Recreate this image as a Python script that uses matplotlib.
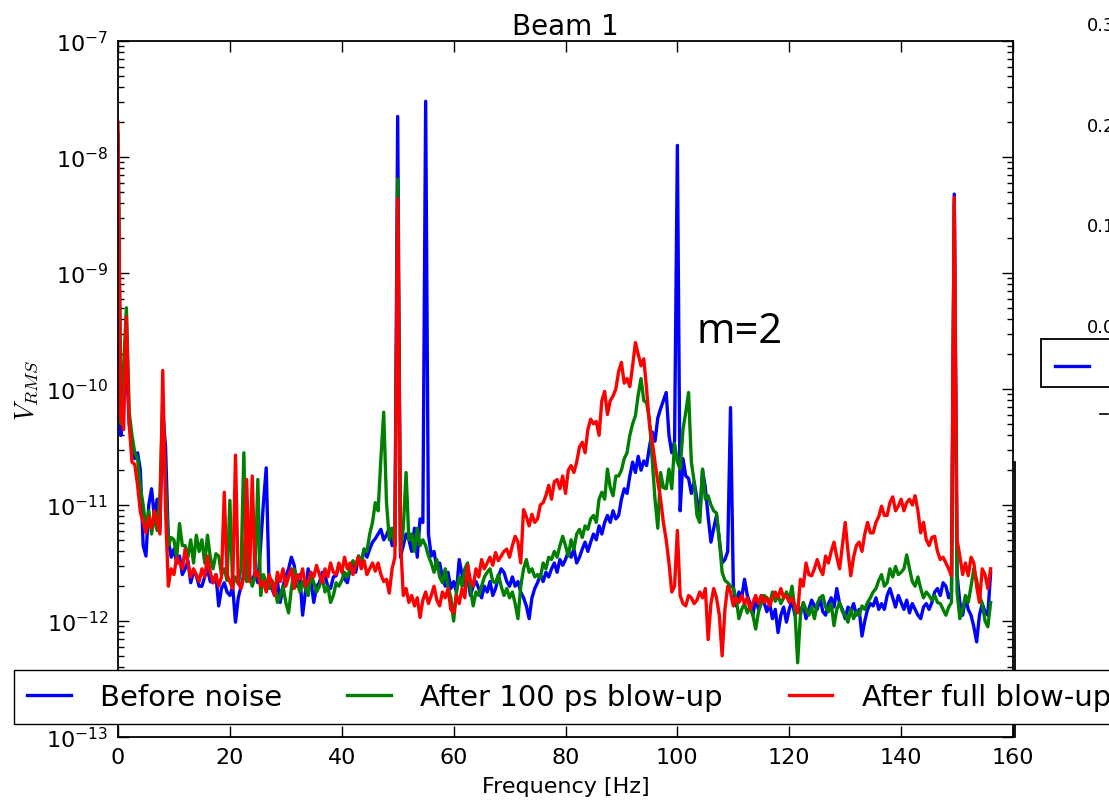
import numpy as np
import matplotlib
matplotlib.use("Agg")
import matplotlib.pyplot as plt
from matplotlib.lines import Line2D
from matplotlib.patches import Rectangle

plt.rcParams['mathtext.fontset'] = 'cm'

# frequency grid (Hz), 0.5 Hz steps from 0 to 156
freq = np.linspace(0, 156, 313)

# log10(V_RMS), 10 values per 5 Hz
before_noise = [
    -7.80, -10.40, -10.00, -9.75, -10.30, -10.45, -10.60, -10.55, -10.70, -11.35,
    -11.44, -11.00, -10.86, -11.10, -10.95, -11.20, -10.20, -10.50, -11.30, -11.45,
    -11.38, -11.50, -11.44, -11.60, -11.55, -11.48, -11.67, -11.58, -11.61, -11.70,
    -11.70, -11.62, -11.55, -11.66, -11.67, -11.60, -11.87, -11.72, -11.67, -11.75,
    -11.78, -11.70, -12.01, -11.80, -11.70, -11.60, -11.10, -11.62, -11.66, -11.58,
    -11.67, -11.35, -10.98, -10.68, -11.67, -11.72, -11.78, -11.66, -11.84, -11.70,
    -11.61, -11.55, -11.45, -11.52, -11.70, -11.60, -11.95, -11.75, -11.55, -11.66,
    -11.84, -11.70, -11.67, -11.58, -11.61, -11.70, -11.72, -11.62, -11.61, -11.52,
    -11.55, -11.64, -11.67, -11.55, -11.50, -11.58, -11.44, -11.50, -11.38, -11.45,
    -11.38, -11.32, -11.29, -11.25, -11.21, -11.30, -11.26, -11.20, -11.35, -11.30,
    -7.65, -11.45, -11.35, -11.25, -11.30, -11.40, -11.20, -11.45, -11.12, -11.15,
    -7.52, -11.25, -11.44, -11.40, -11.55, -11.50, -11.62, -11.70, -11.58, -11.72,
    -11.66, -11.75, -11.47, -11.60, -11.70, -11.62, -11.78, -11.70, -11.66, -11.72,
    -11.80, -11.70, -11.75, -11.66, -11.78, -11.72, -11.62, -11.55, -11.58, -11.66,
    -11.70, -11.62, -11.70, -11.66, -11.75, -11.80, -11.87, -11.98, -11.80, -11.72,
    -11.67, -11.60, -11.66, -11.58, -11.62, -11.55, -11.50, -11.58, -11.47, -11.52,
    -11.47, -11.40, -11.45, -11.38, -11.50, -11.45, -11.38, -11.32, -11.40, -11.32,
    -11.25, -11.30, -11.18, -11.25, -11.15, -11.09, -11.15, -11.05, -11.12, -11.09,
    -10.95, -10.86, -10.90, -10.75, -10.63, -10.72, -10.58, -10.70, -10.62, -10.66,
    -10.50, -10.37, -10.45, -10.25, -10.17, -10.10, -10.03, -10.40, -10.55, -10.45,
    -7.90, -11.05, -10.60, -10.75, -10.77, -10.90, -10.80, -10.95, -11.09, -10.70,
    -10.85, -11.10, -11.32, -11.20, -11.09, -11.30, -11.50, -11.47, -11.40, -10.16,
    -11.70, -11.87, -11.75, -11.80, -11.64, -11.78, -11.85, -11.95, -11.80, -11.90,
    -11.78, -11.84, -11.92, -11.85, -11.98, -11.90, -12.10, -11.95, -11.88, -12.01,
    -11.90, -11.82, -11.95, -11.87, -11.92, -11.85, -11.98, -11.90, -11.82, -11.87,
    -11.90, -11.80, -11.92, -11.95, -11.85, -11.80, -11.88, -11.72, -11.85, -11.90,
    -11.98, -11.88, -11.92, -11.85, -11.95, -11.90, -12.13, -12.00, -11.90, -11.85,
    -11.87, -11.80, -11.90, -11.85, -11.90, -11.78, -11.72, -11.80, -11.88, -11.78,
    -11.84, -11.90, -11.82, -11.93, -11.85, -11.90, -11.95, -11.98, -11.88, -11.85,
    -11.90, -11.84, -11.75, -11.72, -11.78, -11.67, -11.70, -11.80, -11.75, -8.32,
    -11.60, -11.84, -11.95, -11.80, -11.90, -11.95, -12.05, -12.18, -11.95, -11.85,
    -11.92, -11.95, -11.58,
]

after_100ps = [
    -7.90, -10.30, -9.80, -9.30, -10.20, -10.40, -10.55, -10.60, -10.85, -11.00,
    -11.20, -11.05, -11.25, -11.10, -11.22, -10.90, -10.09, -10.80, -11.35, -11.28,
    -11.30, -11.45, -11.16, -11.35, -11.35, -11.45, -11.30, -11.50, -11.26, -11.40,
    -11.30, -11.50, -11.26, -11.45, -11.55, -11.42, -11.44, -11.60, -11.55, -11.65,
    -10.96, -11.70, -11.62, -11.68, -11.55, -10.55, -11.66, -11.60, -11.70, -11.62,
    -10.78, -11.78, -11.60, -11.67, -11.72, -11.65, -11.70, -11.84, -11.78, -11.70,
    -11.84, -11.93, -11.72, -11.55, -11.65, -11.75, -11.66, -11.72, -11.78, -11.60,
    -11.67, -11.75, -11.70, -11.62, -11.75, -11.70, -11.84, -11.78, -11.67, -11.70,
    -11.65, -11.58, -11.62, -11.55, -11.48, -11.52, -11.44, -11.50, -11.38, -11.40,
    -11.25, -11.15, -10.98, -11.05, -10.60, -10.20, -10.98, -11.30, -11.20, -11.35,
    -8.19, -11.40, -11.20, -10.72, -11.30, -11.25, -11.40, -11.20, -11.35, -11.30,
    -11.35, -11.44, -11.50, -11.58, -11.47, -11.62, -11.67, -11.55, -11.70, -11.80,
    -12.00, -11.75, -11.62, -11.70, -11.55, -11.50, -11.72, -11.87, -11.75, -11.78,
    -11.70, -11.62, -11.58, -11.55, -11.66, -11.67, -11.60, -11.70, -11.78, -11.72,
    -11.80, -11.75, -11.85, -11.98, -11.70, -11.55, -11.47, -11.58, -11.55, -11.62,
    -11.60, -11.63, -11.50, -11.55, -11.45, -11.47, -11.40, -11.45, -11.35, -11.27,
    -11.35, -11.44, -11.30, -11.38, -11.25, -11.21, -11.28, -11.18, -11.21, -11.12,
    -11.09, -11.15, -10.95, -10.89, -10.95, -10.69, -10.85, -10.92, -10.75, -10.75,
    -10.70, -10.60, -10.55, -10.40, -10.30, -10.23, -10.05, -9.91, -10.10, -10.12,
    -10.26, -10.60, -10.95, -11.20, -10.72, -10.85, -10.86, -10.69, -10.86, -10.47,
    -10.63, -10.69, -10.35, -10.20, -10.03, -10.63, -10.80, -11.09, -11.15, -10.69,
    -10.95, -10.92, -11.00, -11.05, -11.07, -11.30, -11.58, -11.65, -11.67, -11.70,
    -11.72, -11.80, -11.98, -11.90, -11.85, -11.93, -11.88, -11.95, -12.07, -11.92,
    -11.85, -11.78, -11.80, -11.85, -11.75, -11.83, -11.78, -11.85, -11.80, -11.75,
    -11.82, -11.70, -11.90, -12.36, -11.95, -11.84, -11.90, -11.95, -11.88, -11.98,
    -11.85, -11.80, -11.78, -11.88, -11.92, -11.85, -12.04, -11.90, -11.84, -11.92,
    -11.95, -12.01, -11.90, -11.98, -11.92, -11.95, -11.87, -11.90, -11.84, -11.80,
    -11.75, -11.72, -11.65, -11.60, -11.70, -11.67, -11.55, -11.62, -11.53, -11.60,
    -11.58, -11.55, -11.43, -11.55, -11.66, -11.70, -11.62, -11.72, -11.80, -11.75,
    -11.78, -11.82, -11.78, -11.84, -11.85, -11.90, -11.95, -11.88, -11.84, -8.40,
    -11.75, -11.98, -11.90, -11.78, -11.84, -11.70, -11.55, -11.65, -11.78, -11.85,
    -12.00, -12.05, -11.84,
]

after_full = [
    -7.70, -10.25, -10.35, -9.38, -10.30, -10.63, -10.65, -10.83, -11.06, -11.15,
    -11.24, -11.10, -11.20, -11.05, -11.15, -11.25, -9.84, -11.05, -11.70, -11.55,
    -11.60, -11.45, -11.50, -11.55, -11.38, -11.50, -11.62, -11.55, -11.60, -11.66,
    -11.55, -11.62, -11.44, -11.58, -11.67, -11.60, -11.70, -11.62, -10.89, -11.60,
    -11.66, -11.72, -10.57, -11.67, -11.72, -11.62, -10.78, -11.66, -10.75, -11.61,
    -11.58, -11.70, -11.66, -11.75, -11.60, -11.67, -11.78, -11.58, -11.66, -11.55,
    -11.70, -11.62, -11.55, -11.72, -11.60, -11.64, -11.55, -11.70, -11.66, -11.58,
    -11.62, -11.52, -11.60, -11.67, -11.55, -11.62, -11.50, -11.58, -11.60, -11.50,
    -11.58, -11.45, -11.55, -11.50, -11.60, -11.52, -11.45, -11.55, -11.48, -11.60,
    -11.55, -11.50, -11.57, -11.50, -11.60, -11.66, -11.64, -11.76, -11.55, -11.45,
    -8.36, -11.30, -11.78, -11.72, -11.84, -11.78, -11.87, -11.80, -11.97, -11.82,
    -11.75, -11.85, -11.78, -11.70, -11.82, -11.87, -11.75, -11.80, -11.72, -11.90,
    -11.93, -11.78, -11.85, -11.72, -11.80, -11.52, -11.65, -11.70, -11.55, -11.62,
    -11.47, -11.55, -11.50, -11.45, -11.52, -11.41, -11.48, -11.44, -11.40, -11.38,
    -11.45, -11.35, -11.27, -11.32, -11.50, -11.04, -11.10, -11.18, -11.08, -11.15,
    -11.12, -11.00, -10.98, -10.92, -10.83, -10.95, -10.80, -10.78, -10.86, -10.75,
    -10.90, -10.70, -10.66, -10.72, -10.63, -10.50, -10.46, -10.55, -10.35, -10.26,
    -10.30, -10.28, -10.40, -10.10, -10.02, -10.22, -10.10, -10.06, -10.00, -9.85,
    -9.77, -9.95, -9.91, -9.98, -9.80, -9.60, -9.70, -9.80, -9.74, -10.00,
    -10.30, -10.45, -10.63, -10.80, -10.95, -11.15, -11.30, -11.50, -11.75, -11.70,
    -11.22, -11.78, -11.85, -11.87, -11.78, -11.80, -11.85, -11.82, -11.75, -11.80,
    -11.72, -12.16, -11.85, -11.72, -11.80, -11.95, -12.30, -11.90, -11.70, -11.75,
    -11.87, -11.80, -11.84, -11.78, -11.85, -11.80, -11.90, -11.84, -11.78, -11.85,
    -11.78, -11.84, -11.80, -11.87, -11.80, -11.75, -11.80, -11.72, -11.80, -11.78,
    -11.84, -11.80, -11.87, -11.93, -11.64, -11.70, -11.50, -11.60, -11.61, -11.55,
    -11.47, -11.55, -11.60, -11.44, -11.50, -11.40, -11.32, -11.45, -11.55, -11.35,
    -11.15, -11.40, -11.61, -11.45, -11.35, -11.32, -11.40, -11.25, -11.15, -11.24,
    -11.24, -11.15, -11.10, -11.01, -11.09, -11.09, -10.98, -10.93, -11.05, -11.01,
    -10.95, -11.05, -10.98, -10.95, -11.00, -10.92, -11.05, -11.24, -11.15, -11.30,
    -11.35, -11.28, -11.27, -11.40, -11.47, -11.45, -11.50, -11.55, -11.61, -8.35,
    -11.30, -11.44, -11.60, -11.50, -11.61, -11.45, -11.50, -11.70, -11.84, -11.55,
    -11.60, -11.72, -11.55,
]

labels = ["Before noise", "After 100 ps blow-up", "After full blow-up"]
colors = ["blue", "green", "red"]

# cut-off neighbour panel on the right
side_ticks = ["0.3", "0.2", "0.1", "0.0"]

W, H = 1109, 803
fig = plt.figure(figsize=(W / 100, H / 100), dpi=100)
ax = fig.add_axes([118 / W, 1 - 738 / H, (1013 - 118) / W, (738 - 42) / H])

lines = []
for vals, c, lab in zip([before_noise, after_100ps, after_full], colors, labels):
    ln, = ax.plot(freq, 10.0 ** np.array(vals), color=c, linewidth=2.4, label=lab)
    lines.append(ln)

ax.set_yscale("log")
ax.set_xlim(0, 160)
ax.set_ylim(1e-13, 1e-7)
ax.set_xticks(range(0, 161, 20))
ax.tick_params(which="both", direction="in", top=True, right=True, labelsize=16)
ax.tick_params(which="major", length=8, width=1, pad=7)
ax.tick_params(which="minor", length=4.5, width=1)
for s in ax.spines.values():
    s.set_linewidth(1.3)

ax.set_title("Beam 1", fontsize=20, pad=5)
ax.set_xlabel("Frequency [Hz]", fontsize=16, labelpad=7)
ax.set_ylabel(r"$V_{RMS}$", fontsize=19, labelpad=4)

fig.text(697 / W, 1 - 343 / H, "m=2", fontsize=30, family="Open Sans", va="baseline")

fig.legend(lines, labels, loc="upper left", bbox_to_anchor=(14 / W, 1 - 671 / H),
           ncol=3, fontsize=21, frameon=True, fancybox=False, edgecolor="black",
           framealpha=1, handlelength=1.5, handletextpad=1.0, columnspacing=2.25,
           borderpad=0.44, borderaxespad=0)

# fragment of the neighbouring panel
for lab, yp in zip(side_ticks, [26, 127, 227, 328]):
    fig.text(1087 / W, 1 - yp / H, lab, fontsize=13, va="center", ha="left")
fig.patches.append(Rectangle((1041 / W, 1 - 388 / H), 80 / W, 48 / H, transform=fig.transFigure,
                             facecolor="white", edgecolor="black", linewidth=1.3))
fig.lines.append(Line2D([1055 / W, 1089 / W], [1 - 367 / H] * 2, transform=fig.transFigure,
                        color="blue", linewidth=2.4))
fig.lines.append(Line2D([1100 / W, 1108 / W], [1 - 415 / H] * 2, transform=fig.transFigure,
                        color="black", linewidth=1.2))
fig.lines.append(Line2D([1014.5 / W] * 2, [1 - 738 / H, 1 - 463 / H], transform=fig.transFigure,
                        color="black", linewidth=1.3))

fig.savefig("out.png", dpi=100)
